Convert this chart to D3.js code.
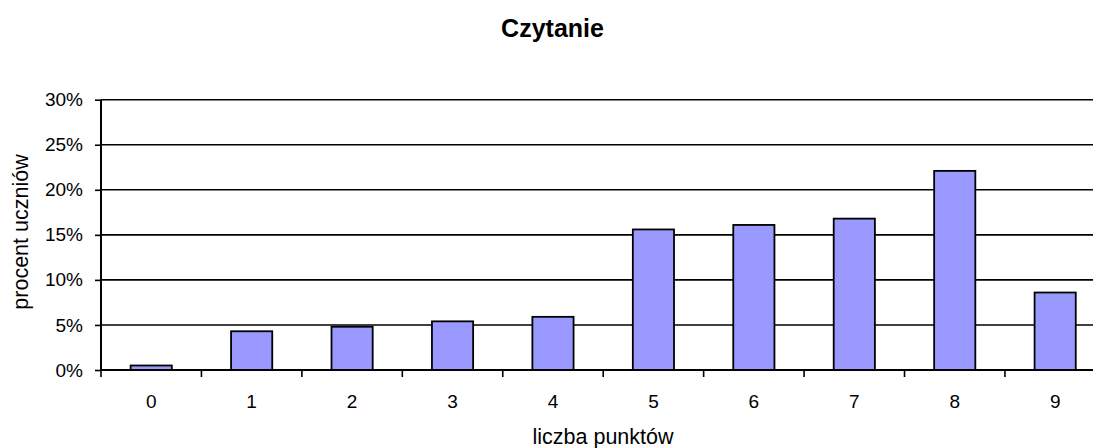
<!DOCTYPE html>
<html>
<head>
<meta charset="utf-8">
<script src="https://cdn.jsdelivr.net/npm/d3@7"></script>
<style>
  body { margin: 0; background: #fff; }
  svg { display: block; font-family: "Liberation Sans", Arial, sans-serif; }
</style>
</head>
<body>
<div id="wykres"></div>
<script>
const kategorie = ["0", "1", "2", "3", "4", "5", "6", "7", "8", "9"];
const wartosci = [0.5, 4.3, 4.8, 5.4, 5.9, 15.6, 16.1, 16.8, 22.1, 8.6];
const tickiY = [0, 5, 10, 15, 20, 25, 30];

const szer = 1093, wys = 448;
const lewo = 101, prawo = 1105.4, gora = 99.7, dol = 370;

const $svg = d3.select("#wykres")
    .append("svg")
    .attr("width", szer)
    .attr("height", wys);

const x = d3.scaleBand()
    .domain(kategorie)
    .range([lewo, prawo])
    .paddingInner(0.59)
    .paddingOuter(0.295);

const y = d3.scaleLinear()
    .domain([0, 30])
    .range([dol, gora]);

// linie siatki
$svg.append("g")
    .selectAll("line")
    .data(tickiY.slice(1))
    .join("line")
    .attr("x1", lewo)
    .attr("x2", szer)
    .attr("y1", d => y(d))
    .attr("y2", d => y(d))
    .attr("stroke", "#000")
    .attr("stroke-width", 1.6);

// słupki
$svg.append("g")
    .selectAll("rect")
    .data(wartosci)
    .join("rect")
    .attr("x", (d, i) => x(kategorie[i]))
    .attr("y", d => y(d))
    .attr("width", x.bandwidth())
    .attr("height", d => y(0) - y(d))
    .attr("fill", "#9999FF")
    .attr("stroke", "#000")
    .attr("stroke-width", 1.8);

// oś Y
const osY = $svg.append("g")
    .attr("transform", `translate(${lewo},0)`)
    .call(d3.axisLeft(y).tickValues(tickiY).tickFormat(d => d + "%").tickSize(6).tickPadding(12));
osY.select(".domain").attr("stroke-width", 2).attr("d", `M0,${dol}V${gora}`);
osY.selectAll(".tick line").attr("stroke-width", 1.6);
osY.selectAll(".tick text")
    .attr("font-size", 19)
    .attr("font-family", "Liberation Sans, Arial, sans-serif")
    .attr("fill", "#000");

// oś X
const granice = kategorie.map((k, i) => x(k) - x.step() * x.paddingInner() / 2);
$svg.append("line")
    .attr("x1", lewo)
    .attr("x2", szer)
    .attr("y1", dol)
    .attr("y2", dol)
    .attr("stroke", "#000")
    .attr("stroke-width", 2);
$svg.append("g")
    .selectAll("line")
    .data(granice)
    .join("line")
    .attr("x1", d => d)
    .attr("x2", d => d)
    .attr("y1", dol)
    .attr("y2", dol + 7)
    .attr("stroke", "#000")
    .attr("stroke-width", 1.6);
$svg.append("g")
    .selectAll("text")
    .data(kategorie)
    .join("text")
    .attr("x", d => x(d) + x.bandwidth() / 2)
    .attr("y", 408)
    .attr("text-anchor", "middle")
    .attr("font-size", 19)
    .text(d => d);

// tytuł i opisy osi
$svg.append("text")
    .attr("x", 552.5)
    .attr("y", 37)
    .attr("text-anchor", "middle")
    .attr("font-size", 25)
    .attr("font-weight", "bold")
    .text("Czytanie");

$svg.append("text")
    .attr("x", 603)
    .attr("y", 444)
    .attr("text-anchor", "middle")
    .attr("font-size", 21.5)
    .text("liczba punktów");

$svg.append("text")
    .attr("transform", `translate(28,232) rotate(-90)`)
    .attr("text-anchor", "middle")
    .attr("font-size", 21.5)
    .text("procent uczniów");
</script>
</body>
</html>
